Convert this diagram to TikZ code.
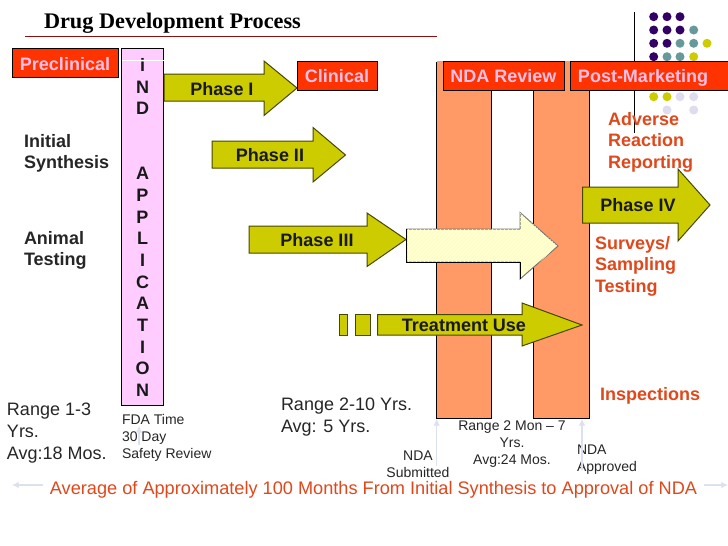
\documentclass[tikz,border=0pt]{standalone}
\usepackage{fontspec}
\setmainfont{Liberation Sans}
\newfontfamily\serifb{Liberation Serif}
\usetikzlibrary{patterns,arrows.meta}
\definecolor{olive}{HTML}{CCCC00}
\definecolor{bar}{HTML}{FF9966}
\definecolor{redbox}{HTML}{FF3300}
\definecolor{pinkbox}{HTML}{FFCCFF}
\definecolor{lbl}{HTML}{FFC0E8}
\definecolor{orangetxt}{HTML}{E0481C}
\definecolor{rule}{HTML}{8B1010}
\definecolor{dotA}{HTML}{330066}
\definecolor{dotB}{HTML}{669999}
\definecolor{dotC}{HTML}{DDDDEE}
\definecolor{pale}{HTML}{FFFFD0}
\definecolor{arrowline}{HTML}{DDE0EE}
\tikzset{
 every node/.style={inner sep=0pt,outer sep=0pt,align=center},
 phasearrow/.style={fill=olive,draw=black!65!olive,line width=0.75pt,line join=miter},
 headerbox/.style={fill=redbox,draw=black,line width=0.7pt},
 headertxt/.style={font=\fontsize{13.5}{16}\selectfont\bfseries,text=lbl},
 phasetxt/.style={font=\fontsize{13.5}{16}\selectfont\bfseries,text=black!90},
 redtxt/.style={font=\fontsize{13.5}{16.3}\selectfont\bfseries,text=orangetxt,align=left},
 blacktxt/.style={font=\fontsize{13.5}{16.3}\selectfont\bfseries,text=black!85,align=left},
 rangetxt/.style={font=\fontsize{13.5}{16.5}\selectfont,text=black!85,align=left},
 smalltxt/.style={font=\fontsize{10.5}{12.8}\selectfont,text=black!85},
 faint/.style={draw=arrowline,line width=0.9pt,-{Latex[length=5pt,width=5pt]}},
}
\newcommand{\arrowpoly}[9][phasearrow]{%
 \path[#1] (#2,#3) -- (#5,#3) -- (#5,#6) -- (#8,#9) -- (#5,#7) -- (#5,#4) -- (#2,#4) -- cycle;}
\begin{document}
\begin{tikzpicture}[x=0.75pt,y=-0.75pt]
\useasboundingbox (0,0) rectangle (728,546);
\fill[white] (0,0) rectangle (728,546);
% dots
\foreach \x/\y/\c in {653.7/16.7/dotA,667/16.7/dotA,680/16.7/dotA,
 653.7/30/dotA,667/30/dotA,680/30/dotA,693.7/30/dotB,
 653.7/43.3/dotA,667/43.3/dotA,680/43.3/dotB,693.7/43.3/dotB,707/43.3/olive,
 653.7/56.7/dotA,667/56.7/dotB,680/56.7/dotB,693.7/56.7/olive,
 653.7/96.7/olive,667/96.7/olive,680/96.7/dotC,693.7/96.7/dotC,
 667/110/dotC,693.7/110/dotC}
 {\fill[\c] (\x,\y) circle[radius=4.5];}
\coordinate (vtop) at (634,12); \coordinate (vbot) at (634,133);
\draw[line width=0.7pt] (vtop) -- (vbot);
% title
\node[anchor=west,font=\serifb\fontsize{16.7}{20}\selectfont\bfseries] (title) at (44,23) {Drug Development Process};
\coordinate (ruleA) at (25,36.5); \coordinate (ruleB) at (437,36.5);
\draw[rule,line width=1.4pt] (ruleA) -- (ruleB);
% bars
\fill[bar] (436.5,61) rectangle (491.5,418);
\fill[bar] (533.5,61) rectangle (589,418);
\draw[line width=0.75pt] (436.5,62) -- (436.5,418);
\draw[line width=0.75pt] (491.5,88) -- (491.5,418);
\draw[line width=0.75pt] (533.5,88) -- (533.5,418);
\draw[line width=0.75pt] (589,88) -- (589,418);
\draw[line width=0.6pt] (436,418) -- (492,418);
\draw[line width=0.6pt] (533,418) -- (589.5,418);
% IND
\draw[fill=pinkbox,line width=0.7pt] (121.5,48.5) rectangle (163.5,405.5);
\draw[white,line width=0.5pt] (121.5,60) -- (163.5,60);
\node[font=\fontsize{13.5}{16.25}\selectfont\bfseries,text=black!90] (ind) at (142.5,227.5)
 {i\\N\\D\\~\\~\\A\\P\\P\\L\\I\\C\\A\\T\\I\\O\\N};
% header boxes
\draw[headerbox] (12.5,48.5) rectangle (118.5,77.5);
\draw[headerbox] (297.5,61) rectangle (377.5,90);
\draw[headerbox] (443,61) rectangle (564.5,90);
\draw[headerbox] (570.5,61) rectangle (729,90);
\node[headertxt] (pre) at (65,64) {Preclinical};
\node[headertxt] (cli) at (337,76) {Clinical};
\node[headertxt] (nda) at (503.5,76) {NDA Review};
\node[headertxt] (post) at (643,77.5) {Post-Marketing};
% arrows
\arrowpoly{164}{74}{101}{264}{61}{115.5}{297}{88}
\arrowpoly{212}{141}{168}{313}{127.5}{182}{345.5}{155}
\arrowpoly{249}{226}{253}{367}{213}{266.5}{406}{239.5}
\path[fill=pale,draw=black!55,line width=0.75pt] (406.5,229) -- (520,229) -- (520,212.5) -- (558,246) -- (520,279) -- (520,262) -- (406.5,262) -- cycle;
\path[pattern=north east lines,pattern color=yellow!30] (406.5,229) -- (520,229) -- (520,212.5) -- (558,246) -- (520,279) -- (520,262) -- (406.5,262) -- cycle;
\draw[black,line width=0.7pt] (520,279) -- (520,262) -- (406.5,262) -- (406.5,229);
\draw[phasearrow] (339.5,314.5) rectangle (347.5,335);
\draw[phasearrow] (355.5,314.5) rectangle (370.5,335);
\arrowpoly{377.5}{314.5}{335}{522}{303}{346}{582}{325}
\arrowpoly{582.5}{187}{223}{678}{169}{241}{710}{205}
\node[phasetxt] (p1) at (222,89) {Phase I};
\node[phasetxt] (p2) at (270,155) {Phase II};
\node[phasetxt] (p3) at (317,240) {Phase III};
\node[phasetxt] (p4) at (638,205.5) {Phase IV};
\node[phasetxt] (tu) at (464,325) {Treatment Use};
% left labels
\node[blacktxt,anchor=north west] (syn) at (24,134) {Initial\\Synthesis};
\node[blacktxt,anchor=north west] (ani) at (24,231) {Animal\\Testing};
% right labels
\node[redtxt,anchor=north west] (adv) at (608,112) {Adverse\\Reaction\\Reporting};
\node[redtxt,anchor=north west] (sur) at (595,236) {Surveys/\\Sampling\\Testing};
\node[redtxt,anchor=west] (ins) at (600,396) {Inspections};
% lower labels
\node[rangetxt,anchor=north west] (r1) at (7,403) {Range 1-3\\Yrs.\\Avg:18 Mos.};
\node[smalltxt,anchor=north west,align=left] (fda) at (122,414) {FDA Time\\30 Day\\Safety Review};
\node[rangetxt,anchor=north west] (r2) at (281,398) {Range 2-10 Yrs.\\Avg: 5 Yrs.};
\node[smalltxt] (r3) at (512,444) {Range 2 Mon – 7\\Yrs.\\Avg:24 Mos.};
\node[smalltxt] (subm) at (418,464.5) {NDA\\Submitted};
\node[smalltxt,anchor=north west,align=left] (appr) at (577,445) {NDA\\Approved};
\node[font=\fontsize{13.63}{16}\selectfont,text=orangetxt] (avg) at (373.5,490) {Average of Approximately 100 Months From Initial Synthesis to Approval of NDA};
% faint arrows
\coordinate (a1s) at (436.7,466); \coordinate (a1e) at (436.7,419);
\coordinate (a2s) at (582,470); \coordinate (a2e) at (582,419);
\coordinate (a3s) at (139,445); \coordinate (a3e) at (139,426);
\coordinate (a4s) at (43,485); \coordinate (a4e) at (12,485);
\coordinate (a5s) at (704,485); \coordinate (a5e) at (728,485);
\draw[faint] (a1s) -- (a1e);
\draw[faint] (a2s) -- (a2e);
\draw[faint] (a3s) -- (a3e);
\draw[faint] (a4s) -- (a4e);
\draw[faint] (a5s) -- (a5e);
\end{tikzpicture}
\end{document}
